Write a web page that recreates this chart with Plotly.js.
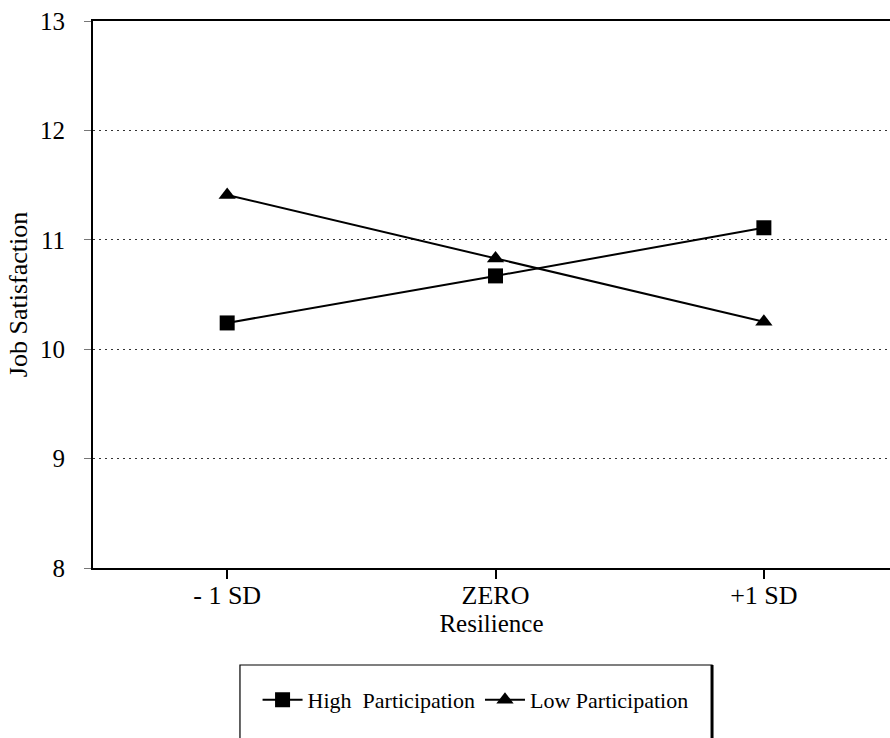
<!DOCTYPE html>
<html>
<head>
<meta charset="utf-8">
<script src="https://cdn.plot.ly/plotly-3.0.1.min.js"></script>
<style>html,body{margin:0;padding:0;background:#fff;overflow:hidden}</style>
</head>
<body>
<div id="chart" style="width:890px;height:738px"></div>
<script>
const categories = ['- 1 SD', 'ZERO', '+1 SD'];
const highParticipation = [10.24, 10.67, 11.11];
const lowParticipation = [11.41, 10.83, 10.25];
const yTickVals = [8, 9, 10, 11, 12, 13];
const xTitle = 'Resilience';
const yTitle = 'Job Satisfaction';
const seriesNames = ['High  Participation', 'Low Participation'];

const FONT = '"Liberation Serif", "Times New Roman", serif';

const traces = [
  {
    x: [0, 1, 2], y: highParticipation, name: seriesNames[0],
    type: 'scatter', mode: 'lines+markers',
    line: {color: '#000', width: 2},
    marker: {symbol: 'square', size: 15, color: '#000'}
  },
  {
    x: [0, 1, 2], y: lowParticipation, name: seriesNames[1],
    type: 'scatter', mode: 'lines+markers',
    line: {color: '#000', width: 2},
    marker: {symbol: 'triangle-up', size: 15, color: '#000'}
  }
];

const layout = {
  width: 890, height: 738,
  margin: {l: 93, r: 0, t: 21, b: 170},
  paper_bgcolor: '#fff', plot_bgcolor: '#fff',
  font: {family: FONT, color: '#000'},
  showlegend: true,
  legend: {
    orientation: 'h', x: 0.48, xanchor: 'center', y: -0.241, yanchor: 'middle',
    font: {family: FONT, size: 22, color: '#000'},
    bgcolor: 'rgba(0,0,0,0)', borderwidth: 0, itemwidth: 40
  },
  xaxis: {
    range: [-0.5, 2.47],
    tickmode: 'array', tickvals: [0, 1, 2], ticktext: categories,
    showgrid: false, zeroline: false,
    showline: true, linecolor: '#000', linewidth: 2, mirror: true,
    ticks: 'outside', ticklen: 9, tickwidth: 2, tickcolor: '#000',
    ticklabelstandoff: -6,
    tickfont: {family: FONT, size: 26, color: '#000'},
    title: {text: xTitle, font: {family: FONT, size: 25, color: '#000'}, standoff: 0},
    automargin: false, fixedrange: true
  },
  yaxis: {
    range: [8, 13],
    tickmode: 'array', tickvals: yTickVals,
    showgrid: true, gridcolor: '#333', griddash: '2px,4px', gridwidth: 1.2,
    zeroline: false,
    showline: true, linecolor: '#000', linewidth: 2, mirror: false,
    ticks: 'outside', ticklen: 7, tickcolor: '#777', tickwidth: 1,
    ticklabelstandoff: 14,
    tickfont: {family: FONT, size: 25, color: '#000'},
    title: {text: yTitle, font: {family: FONT, size: 26, color: '#000'}, standoff: 5},
    automargin: false, fixedrange: true
  },
  shapes: [
    {type: 'rect', xref: 'paper', yref: 'paper', x0: 0.1844, x1: 0.7767, y0: -0.1773, y1: -0.36,
     line: {color: '#000', width: 1.2}, fillcolor: 'rgba(0,0,0,0)'},
    {type: 'line', xref: 'paper', yref: 'paper', x0: 0.7767, x1: 0.7767, y0: -0.1773, y1: -0.36,
     line: {color: '#000', width: 3}}
  ]
};

Plotly.newPlot('chart', traces, layout, {displayModeBar: false, staticPlot: true});
</script>
</body>
</html>
